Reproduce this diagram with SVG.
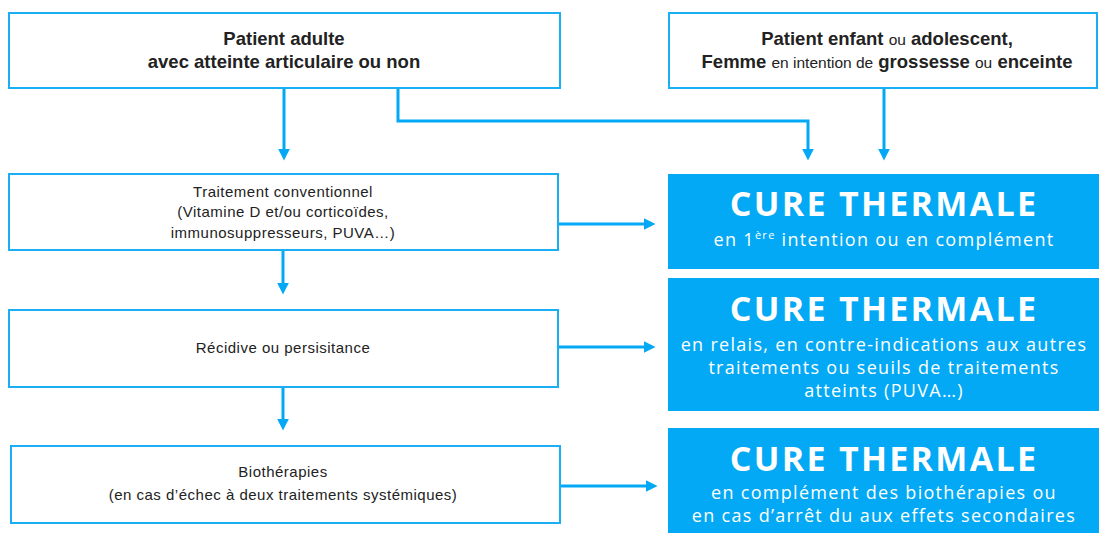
<svg xmlns="http://www.w3.org/2000/svg" width="1099" height="533" viewBox="0 0 1099 533">
<style>
.box{fill:#fff;stroke:#1aaef5;stroke-width:2}
.cure{fill:#03a9f4}
.t{font-family:"Liberation Sans",Arial,sans-serif;font-size:15px;letter-spacing:0.5px;fill:#222;text-anchor:middle}
.b{font-family:"Liberation Sans",Arial,sans-serif;font-size:18.5px;font-weight:bold;fill:#222;text-anchor:middle}
.bn{font-weight:normal;font-size:15.5px}
.h{font-family:"Open Sans",Lato,sans-serif;font-size:34px;font-weight:bold;fill:#fff;text-anchor:middle;letter-spacing:2.3px}
.s{font-family:"Open Sans",Lato,sans-serif;font-size:18px;fill:#fff;text-anchor:middle;letter-spacing:1.3px}
.c{fill:none;stroke:#03a9f4;stroke-width:3}
</style>
<defs>
<marker id="ah" viewBox="0 0 10 10" refX="2" refY="5" markerWidth="4" markerHeight="4" orient="auto" markerUnits="strokeWidth">
<path d="M0,0 L10,5 L0,10 z" fill="#03a9f4"/>
</marker>
</defs>
<g id="connectors">
<path class="c" d="M284,88 V151" marker-end="url(#ah)"/>
<path class="c" d="M398,88 V121 H808 V151" marker-end="url(#ah)"/>
<path class="c" d="M884,88 V151" marker-end="url(#ah)"/>
<path class="c" d="M283,250 V285" marker-end="url(#ah)"/>
<path class="c" d="M283,387 V421" marker-end="url(#ah)"/>
<path class="c" d="M558,224 H646" marker-end="url(#ah)"/>
<path class="c" d="M558,347 H646" marker-end="url(#ah)"/>
<path class="c" d="M560,486 H648" marker-end="url(#ah)"/>
</g>
<g id="n1">
<rect class="box" x="9" y="13" width="551" height="75"/>
<text class="b" x="284" y="45">Patient adulte</text>
<text class="b" x="284" y="68">avec atteinte articulaire ou non</text>
</g>
<g id="n2">
<rect class="box" x="669" y="13" width="428" height="75"/>
<text class="b" x="887" y="45">Patient enfant <tspan class="bn">ou</tspan> adolescent,</text>
<text class="b" x="887" y="68">Femme <tspan class="bn">en intention de</tspan> grossesse <tspan class="bn">ou</tspan> enceinte</text>
</g>
<g id="n3">
<rect class="box" x="9" y="174" width="549" height="76"/>
<text class="t" x="283" y="197">Traitement conventionnel</text>
<text class="t" x="283" y="217">(Vitamine D et/ou corticoïdes,</text>
<text class="t" x="283" y="238">immunosuppresseurs, PUVA…)</text>
</g>
<g id="n4">
<rect class="box" x="9" y="310" width="549" height="77"/>
<text class="t" x="283" y="353">Récidive ou persisitance</text>
</g>
<g id="n5">
<rect class="box" x="11" y="446" width="549" height="77"/>
<text class="t" x="283" y="477">Biothérapies</text>
<text class="t" x="283" y="500">(en cas d’échec à deux traitements systémiques)</text>
</g>
<g id="c1">
<rect class="cure" x="668" y="174" width="431" height="95"/>
<text class="h" x="884" y="216">CURE THERMALE</text>
<text class="s" x="884" y="246">en 1<tspan font-size="11" dy="-7">ère</tspan><tspan dy="7"> intention ou en complément</tspan></text>
</g>
<g id="c2">
<rect class="cure" x="668" y="278" width="431" height="133"/>
<text class="h" x="884" y="321">CURE THERMALE</text>
<text class="s" x="884" y="351">en relais, en contre-indications aux autres</text>
<text class="s" x="884" y="374">traitements ou seuils de traitements</text>
<text class="s" x="884" y="397">atteints (PUVA…)</text>
</g>
<g id="c3">
<rect class="cure" x="668" y="428" width="431" height="110"/>
<text class="h" x="884" y="471">CURE THERMALE</text>
<text class="s" x="884" y="499">en complément des biothérapies ou</text>
<text class="s" x="884" y="522">en cas d’arrêt du aux effets secondaires</text>
</g>
</svg>
